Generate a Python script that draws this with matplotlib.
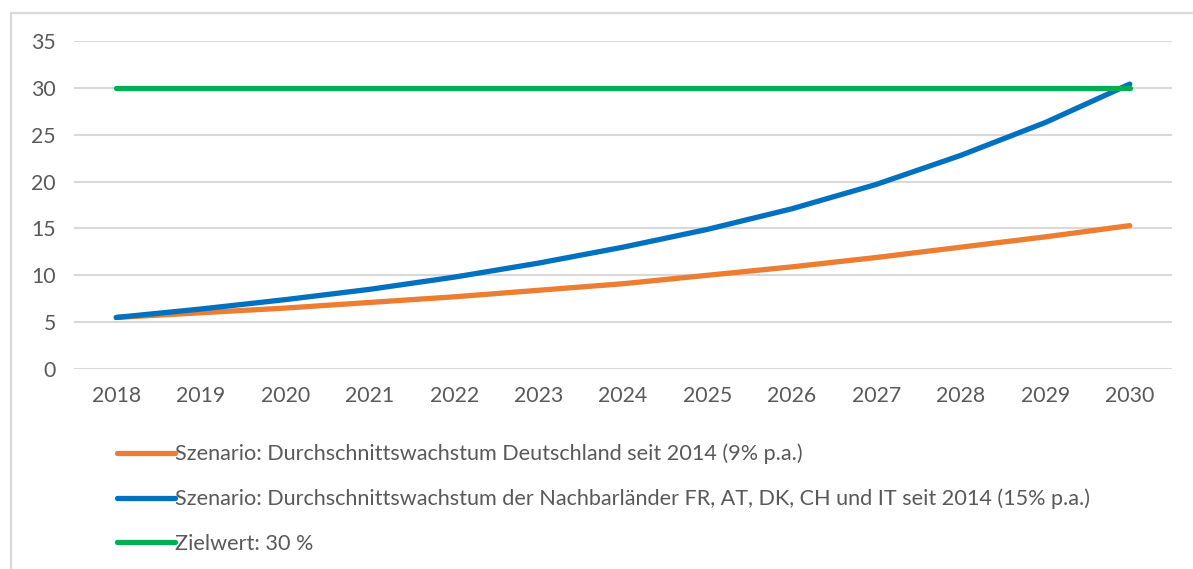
import matplotlib.pyplot as plt
from matplotlib.lines import Line2D

years = ["2018", "2019", "2020", "2021", "2022", "2023", "2024",
         "2025", "2026", "2027", "2028", "2029", "2030"]
de_growth = [5.5, 6.0, 6.5, 7.1, 7.7, 8.4, 9.1, 10.0, 10.9, 11.9, 13.0, 14.1, 15.3]
neighbour_growth = [5.5, 6.4, 7.4, 8.5, 9.8, 11.3, 13.0, 14.9, 17.1, 19.7, 22.8, 26.3, 30.4]
target = [30] * 13

labels = [
    "Szenario: Durchschnittswachstum Deutschland seit 2014 (9% p.a.)",
    "Szenario: Durchschnittswachstum der Nachbarländer FR, AT, DK, CH und IT seit 2014 (15% p.a.)",
    "Zielwert: 30 %",
]
colors = ["#ED7D31", "#0070C0", "#00B050"]

plt.rcParams['font.family'] = ['Lato', 'DejaVu Sans']
W, H = 1193, 569
fig = plt.figure(figsize=(W / 100, H / 100), dpi=100)

# light frame: top and left edge only
fig.lines.append(Line2D([10.5 / W, 10.5 / W, 1.0], [0, 1 - 12.5 / H, 1 - 12.5 / H],
                        transform=fig.transFigure, color="#d9d9d9", lw=1.6))

ax = fig.add_axes([74 / W, (H - 369) / H, 1098 / W, 328 / H])
x = list(range(len(years)))
for vals, c, lab in zip([de_growth, neighbour_growth, target], colors, labels):
    ax.plot(x, vals, color=c, lw=3.8, solid_capstyle="round",
            solid_joinstyle="round", label=lab)

ax.set_xlim(-0.5, 12.5)
ax.set_ylim(0, 35)
ax.set_yticks(range(0, 36, 5))
ax.set_xticks(x)
ax.set_xticklabels(years)
ax.yaxis.grid(True, color="#d9d9d9", lw=1.5)
ax.set_axisbelow(True)
for s in ax.spines.values():
    s.set_visible(False)
ax.tick_params(length=0, labelsize=15.3, colors="#595959")
ax.tick_params(axis="y", pad=13)
ax.tick_params(axis="x", pad=12)

leg = fig.legend(loc="upper left", bbox_to_anchor=(106 / W, 1 - 433 / H),
                 frameon=False, fontsize=15.6, handlelength=2.7,
                 handletextpad=0.0, labelspacing=1.12, borderpad=0)
for t in leg.get_texts():
    t.set_color("#595959")
for h in leg.get_lines():
    h.set_linewidth(3.8)
    h.set_solid_capstyle("round")

fig.savefig("out.png", dpi=100)
